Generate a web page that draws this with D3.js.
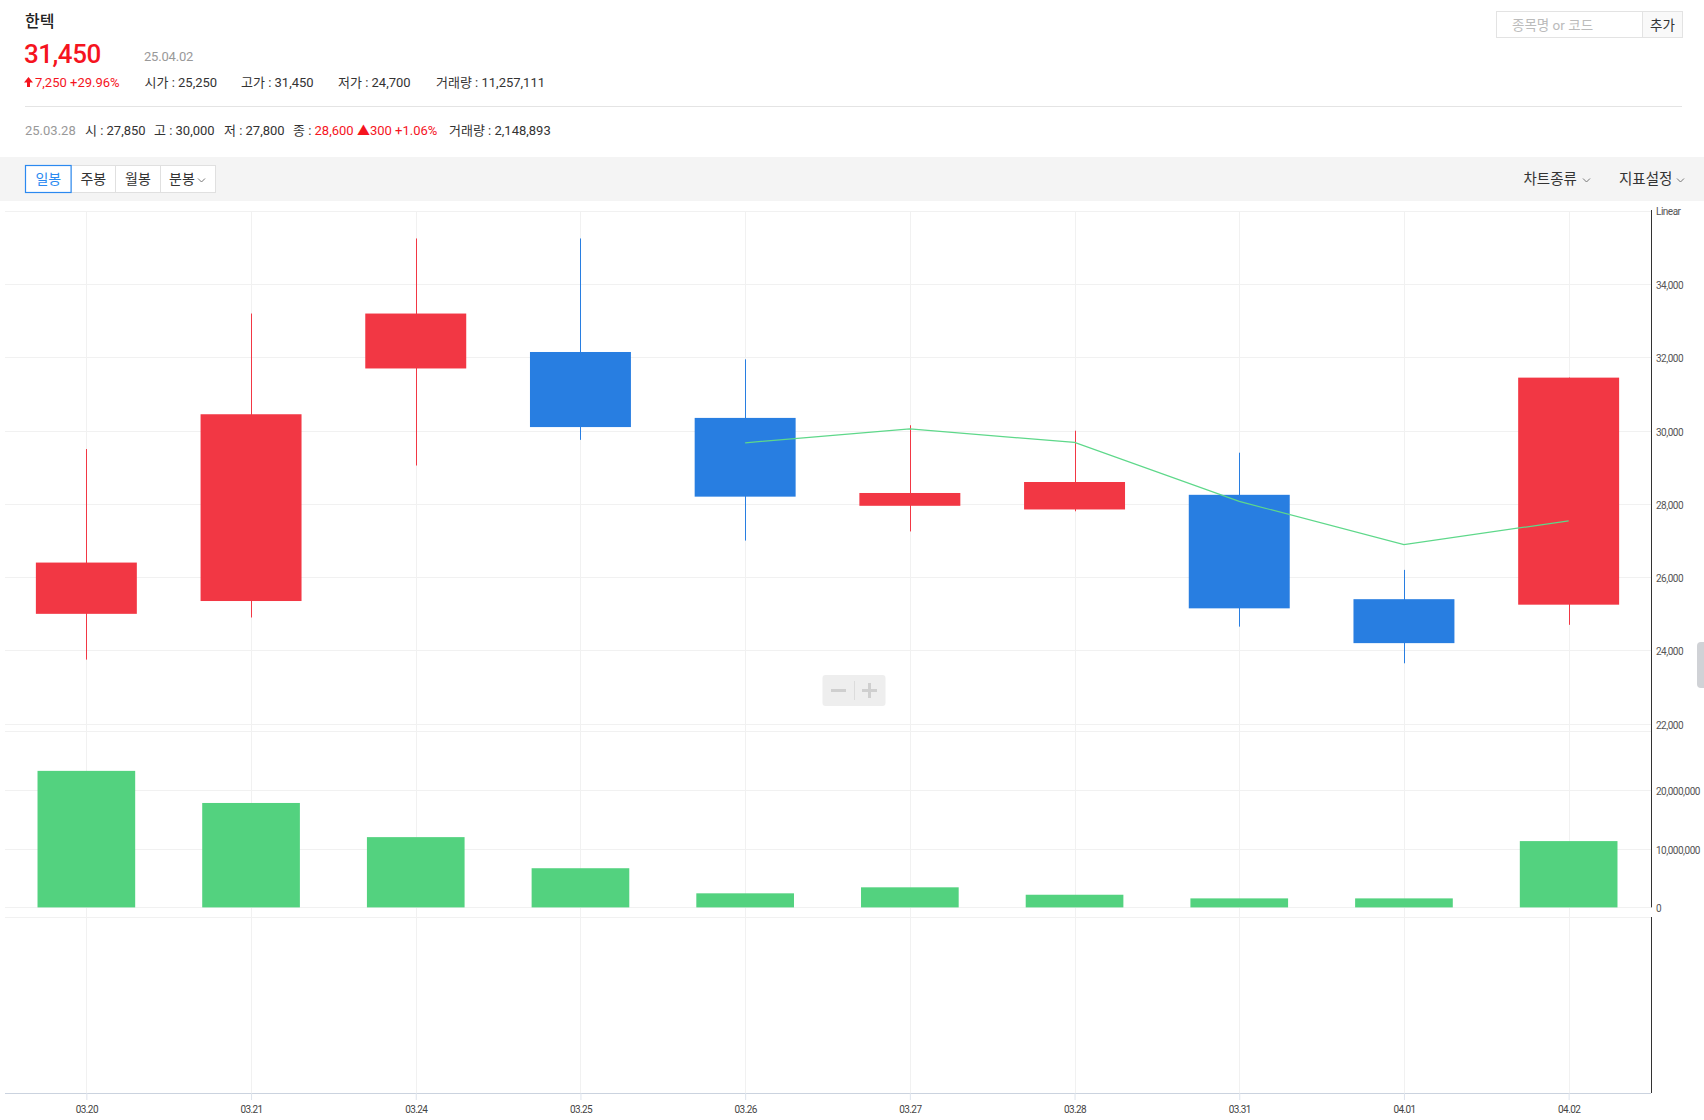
<!DOCTYPE html>
<html><head><meta charset="utf-8">
<script src="https://cdn.jsdelivr.net/npm/d3@7"></script>
<style>
html,body{margin:0;padding:0;background:#fff;}
svg{display:block;font-family:Roboto,"Noto Sans CJK KR",sans-serif;}
</style></head>
<body>
<svg id="c" width="1704" height="1120"></svg>
<script>
// ---- data ----
const dates   = ["03.20","03.21","03.24","03.25","03.26","03.27","03.28","03.31","04.01","04.02"];
const opens   = [25000,25350,31700,32150,30350,27950,27850,28250,25400,25250];
const highs   = [29500,33200,35250,35250,31950,30150,30000,29400,26200,31450];
const lows    = [23750,24900,29050,29750,27000,27250,27800,24650,23650,24700];
const closes  = [26400,30450,33200,30100,28200,28300,28600,25150,24200,31450];
const volumes = [23180000,17730000,11930000,6650000,2390000,3410000,2148893,1530000,1530000,11257111];
const ma5     = [null,null,null,null,29670,30050,29680,28070,26890,27540];
const priceTicks  = [22000,24000,26000,28000,30000,32000,34000];
const priceGrid   = [24000,26000,28000,30000,32000,34000,36000];
const volumeTicks = [0,10000000,20000000];
const priceDomain = [22000,36000];
const volumeDomain = [0,30000000];

const candles = dates.map((d,i)=>({d,o:opens[i],h:highs[i],l:lows[i],c:closes[i],v:volumes[i],ma:ma5[i]}));

const svg = d3.select("#c");
const RED="#f23744", BLUE="#287ee1", GREEN="#53d27f";
const fmt = d3.format(",");

// ---- header ----
const hdr = svg.append("g");
hdr.append("text").attr("x",25).attr("y",27).attr("font-size",16).attr("font-weight",500).attr("fill","#222").text("한텍");
hdr.append("text").attr("x",24).attr("y",63).attr("font-size",26).attr("font-weight",500).attr("fill","#f5141e").attr("letter-spacing",-0.5).text("31,450");
hdr.append("text").attr("x",144).attr("y",61).attr("font-size",13).attr("fill","#999").attr("letter-spacing",-0.2).text("25.04.02");
// up arrow
hdr.append("path").attr("d","M28.5,77 L33,82.5 L30,82.5 L30,87 L27,87 L27,82.5 L24,82.5 Z").attr("fill","#f5141e");
hdr.append("text").attr("x",35).attr("y",87).attr("font-size",13).attr("fill","#f5141e").text("7,250 +29.96%");
const row1 = [["시가 : 25,250",144.5],["고가 : 31,450",241],["저가 : 24,700",338],["거래량 : 11,257,111",436]];
row1.forEach(([t,x])=>hdr.append("text").attr("x",x).attr("y",87).attr("font-size",13).attr("fill","#333").text(t));
hdr.append("line").attr("x1",25).attr("x2",1682).attr("y1",106.5).attr("y2",106.5).attr("stroke","#e4e4e4");
hdr.append("text").attr("x",25).attr("y",135).attr("font-size",13).attr("fill","#999").text("25.03.28");
[["시 : 27,850",85],["고 : 30,000",154],["저 : 27,800",224]].forEach(([t,x])=>hdr.append("text").attr("x",x).attr("y",135).attr("font-size",13).attr("fill","#333").text(t));
const t5 = hdr.append("text").attr("x",293).attr("y",135).attr("font-size",13);
t5.append("tspan").attr("fill","#333").text("종 : ");
t5.append("tspan").attr("fill","#f5141e").text("28,600 ");
t5.append("tspan").attr("fill","#f5141e").text("▲300 +1.06%");
hdr.append("text").attr("x",449).attr("y",135).attr("font-size",13).attr("fill","#333").text("거래량 : 2,148,893");

// search box
hdr.append("rect").attr("x",1496.5).attr("y",11.5).attr("width",146).attr("height",26).attr("fill","#fff").attr("stroke","#e3e3e3");
hdr.append("rect").attr("x",1642.5).attr("y",11.5).attr("width",40).attr("height",26).attr("fill","#f9f9f9").attr("stroke","#e3e3e3");
hdr.append("text").attr("x",1512).attr("y",30).attr("font-size",13.5).attr("fill","#bbb").text("종목명 or 코드");
hdr.append("text").attr("x",1662.5).attr("y",29.5).attr("text-anchor","middle").attr("font-size",13.5).attr("fill","#333").text("추가");

// toolbar
svg.append("rect").attr("x",0).attr("y",157).attr("width",1704).attr("height",44).attr("fill","#f4f4f4");
const btns = [["일봉",25,45.6,true],["주봉",70.6,44.4,false],["월봉",115,45,false],["분봉",160,55,false]];
btns.forEach(([t,x,w,sel],i)=>{
  if(!sel) svg.append("rect").attr("x",x+0.5).attr("y",165.5).attr("width",w).attr("height",27).attr("fill","#fff").attr("stroke","#e0e0e0");
});
btns.forEach(([t,x,w,sel],i)=>{
  if(sel) svg.append("rect").attr("x",x+0.5).attr("y",165.5).attr("width",w).attr("height",27).attr("fill","#fff").attr("stroke","#2b89f0").attr("stroke-width",1.2);
  const tx = i===3 ? x+22 : x+w/2+0.5;
  svg.append("text").attr("x",tx).attr("y",184).attr("text-anchor","middle").attr("font-size",14).attr("fill",sel?"#2b89f0":"#333").text(t);
});
function chevron(x,y){svg.append("path").attr("d",`M${x},${y} L${x+3.5},${y+3.5} L${x+7},${y}`).attr("fill","none").attr("stroke","#777").attr("stroke-width",1);}
chevron(198,178.5);
svg.append("text").attr("x",1523.5).attr("y",184).attr("font-size",14.5).attr("fill","#333").text("차트종류");
chevron(1583,178.5);
svg.append("text").attr("x",1619).attr("y",184).attr("font-size",14.5).attr("fill","#333").text("지표설정");
chevron(1677,178.5);

// ---- chart geometry ----
const L=4, R=1651;
const pTop=211, pBot=723.7, vTop=730.7, vBot=907.4, lTop=917, xAxisY=1093;
const x = d3.scalePoint().domain(dates).range([L,R]).padding(0.5);
const step = x.step();
const yP = d3.scaleLinear().domain(priceDomain).range([pBot,pTop]);
const yV = d3.scaleLinear().domain(volumeDomain).range([vBot,vTop]);

const grid = svg.append("g").attr("stroke","#f1f1f1").attr("stroke-width",1);
grid.selectAll("line.v").data(dates).join("line").attr("class","v")
  .attr("x1",d=>Math.round(x(d))+0.5).attr("x2",d=>Math.round(x(d))+0.5).attr("y1",pTop).attr("y2",xAxisY);
grid.selectAll("line.hp").data(priceGrid.concat([22000])).join("line").attr("class","hp")
  .attr("x1",5).attr("x2",R).attr("y1",d=>Math.round(yP(d))+0.5).attr("y2",d=>Math.round(yP(d))+0.5);
grid.selectAll("line.hv").data(volumeTicks.concat([volumeDomain[1]])).join("line").attr("class","hv")
  .attr("x1",5).attr("x2",R).attr("y1",d=>Math.round(yV(d))+0.5).attr("y2",d=>Math.round(yV(d))+0.5);
grid.append("line").attr("x1",5).attr("x2",R).attr("y1",lTop+0.5).attr("y2",lTop+0.5);

// candles
const cw = step*0.613;
const cg = svg.append("g");
cg.selectAll("line.w").data(candles).join("line")
  .attr("x1",d=>Math.round(x(d.d))+0.5).attr("x2",d=>Math.round(x(d.d))+0.5)
  .attr("y1",d=>yP(d.h)).attr("y2",d=>yP(d.l))
  .attr("stroke",d=>d.c>=d.o?RED:BLUE).attr("stroke-width",1);
cg.selectAll("rect").data(candles).join("rect")
  .attr("x",d=>x(d.d)-cw/2).attr("width",cw)
  .attr("y",d=>yP(Math.max(d.o,d.c))).attr("height",d=>Math.max(1,Math.abs(yP(d.o)-yP(d.c))))
  .attr("fill",d=>d.c>=d.o?RED:BLUE);

// MA line
const line = d3.line().defined(d=>d.ma!=null).x(d=>x(d.d)).y(d=>yP(d.ma));
svg.append("path").datum(candles).attr("d",line).attr("fill","none").attr("stroke","#5ed88a").attr("stroke-width",1.2);

// volume
const vw = step*0.593;
svg.append("g").selectAll("rect").data(candles).join("rect")
  .attr("x",d=>x(d.d)-vw/2).attr("width",vw)
  .attr("y",d=>yV(d.v)).attr("height",d=>yV(0)-yV(d.v)).attr("fill",GREEN);

// axes (right)
const axP = svg.append("g").attr("transform",`translate(${R},0)`)
  .call(d3.axisRight(yP).tickValues(priceTicks).tickSize(0).tickPadding(5).tickFormat(fmt));
const axV = svg.append("g").attr("transform",`translate(${R},0)`)
  .call(d3.axisRight(yV).tickValues(volumeTicks).tickSize(0).tickPadding(5).tickFormat(fmt));
[axP,axV].forEach(a=>{
  a.select(".domain").remove();
  a.selectAll("text").attr("font-size",10).attr("fill","#555").attr("letter-spacing",-0.5)
    .attr("font-family","Roboto,sans-serif").attr("dy","0.45em");
});
svg.append("line").attr("x1",R+0.5).attr("x2",R+0.5).attr("y1",pTop-1).attr("y2",vBot).attr("stroke","#333");
svg.append("line").attr("x1",R+0.5).attr("x2",R+0.5).attr("y1",lTop).attr("y2",xAxisY).attr("stroke","#333");
svg.append("text").attr("x",R+5).attr("y",215).attr("font-size",10).attr("fill","#555").attr("letter-spacing",-0.5).text("Linear");

// x axis
const axX = svg.append("g").attr("transform",`translate(0,${xAxisY})`)
  .call(d3.axisBottom(x).tickSize(7).tickPadding(6));
axX.select(".domain").attr("stroke","#cbd3df").attr("d",`M5,0.5H${R}`);
axX.selectAll(".tick line").attr("stroke","#dde3ec");
axX.selectAll("text").attr("font-size",10).attr("fill","#444").attr("letter-spacing",-0.6).attr("font-family","Roboto,sans-serif");

// zoom control
const zc = svg.append("g");
zc.append("rect").attr("x",822.5).attr("y",675).attr("width",63).attr("height",31).attr("rx",3).attr("fill","#eeeeee");
zc.append("line").attr("x1",854.5).attr("x2",854.5).attr("y1",681).attr("y2",700).attr("stroke","#dcdcdc");
zc.append("rect").attr("x",831).attr("y",689).attr("width",15).attr("height",3).attr("fill","#cfcfcf");
zc.append("rect").attr("x",862).attr("y",689).attr("width",15).attr("height",3).attr("fill","#cfcfcf");
zc.append("rect").attr("x",868).attr("y",683).attr("width",3).attr("height",15).attr("fill","#cfcfcf");

// right scroll handle
svg.append("rect").attr("x",1697).attr("y",642).attr("width",12).attr("height",46).attr("rx",4).attr("fill","#d0d2d6");
</script>
</body></html>
